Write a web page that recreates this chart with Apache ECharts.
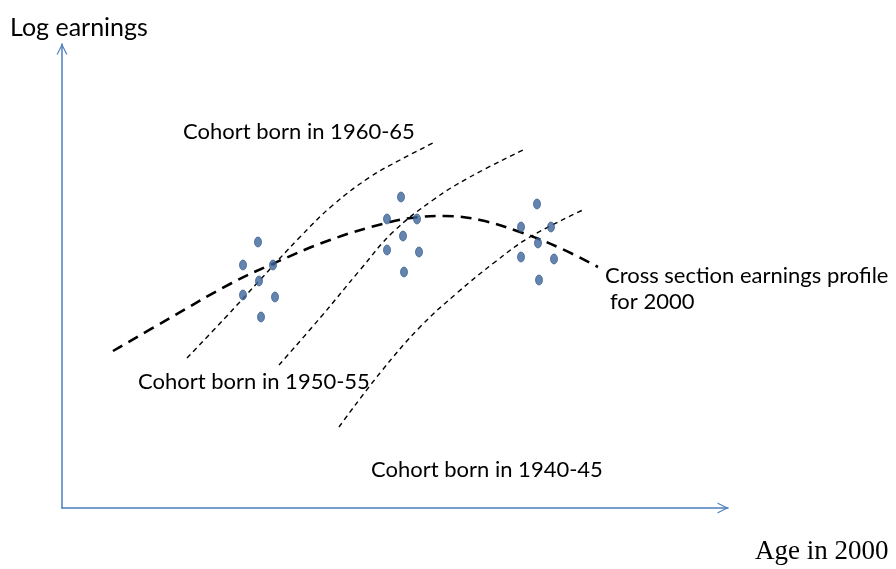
<!DOCTYPE html>
<html><head><meta charset="utf-8">
<script src="https://cdn.jsdelivr.net/npm/echarts@6/dist/echarts.min.js"></script>
<style>html,body{margin:0;padding:0;background:#fff}#c{width:896px;height:569px}</style>
</head><body><div id="c"></div>
<script>
// Data in schematic units (x: age, y: log earnings)
const cluster1 = [[196,266],[181,243],[211,243],[197,227],[181,213],[213,211],[199,191]];
const cluster2 = [[339,311],[325,289],[355,289],[341,272],[325,258],[357,256],[342,236]];
const cluster3 = [[475,304],[459,281],[489,281],[476,265],[459,251],[492,249],[477,228]];
const crossSection = [[51,157],[108,190],[168,224],[208,243],[268,268],[328,286],[358,291],[383,292],[418,288],[458,276],[498,260],[536,241]];
const cohort6065 = [[125,150],[163,190],[198,228],[238,271],[271,303],[308,331],[338,348],[373,366]];
const cohort5055 = [[217,143],[258,190],[298,238],[331,276],[371,308],[408,331],[461,358]];
const cohort4045 = [[277,81],[318,135],[358,181],[395,215],[433,246],[468,271],[523,299]];

const axisBlue = '#4a7ebb';
const chev = 'path://M0,12 L6,0 L12,12 L10.6,12 L6,2.6 L1.4,12 Z';
const chart = echarts.init(document.getElementById('c'));
const dotStyle = {color:'#3d659c', borderColor:'#2e5286', borderWidth:0.8};
const thin = {color:'#000', width:1.4, type:[5,4]};
const sans = '"Lato", sans-serif';
chart.setOption({
  animation:false,
  grid:{left:62, top:44, width:666, height:464},
  xAxis:{type:'value', min:0, max:666, axisLabel:{show:false}, axisTick:{show:false}, splitLine:{show:false},
    axisLine:{onZero:false, lineStyle:{color:axisBlue, width:1.5}, symbol:['none',chev], symbolSize:[11,12], symbolOffset:[0,-5]}},
  yAxis:{type:'value', min:0, max:464, axisLabel:{show:false}, axisTick:{show:false}, splitLine:{show:false},
    axisLine:{onZero:false, lineStyle:{color:axisBlue, width:1.5}, symbol:['none',chev], symbolSize:[11,12], symbolOffset:[0,-5]}},
  series:[
    {type:'line', data:crossSection, smooth:0.4, symbol:'none', lineStyle:{color:'#000', width:2.6, type:[11,7]}},
    {type:'line', data:cohort6065, smooth:0.4, symbol:'none', lineStyle:thin},
    {type:'line', data:cohort5055, smooth:0.4, symbol:'none', lineStyle:thin},
    {type:'line', data:cohort4045, smooth:0.4, symbol:'none', lineStyle:thin},
    {type:'scatter', data:cluster1.concat(cluster2, cluster3), symbol:'circle', symbolSize:[7,10], itemStyle:dotStyle, z:5}
  ],
  graphic:[
    {type:'text', x:10, y:40, style:{text:'Log earnings', font:'25px '+sans, fill:'#000', verticalAlign:'bottom'}},
    {type:'text', x:183, y:143, style:{text:'Cohort born in 1960-65', font:'22px '+sans, fill:'#000', verticalAlign:'bottom'}},
    {type:'text', x:138, y:393, style:{text:'Cohort born in 1950-55', font:'22px '+sans, fill:'#000', verticalAlign:'bottom'}},
    {type:'text', x:371, y:481, style:{text:'Cohort born in 1940-45', font:'22px '+sans, fill:'#000', verticalAlign:'bottom'}},
    {type:'text', x:605, y:287, style:{text:'Cross section earnings profile', font:'22px '+sans, fill:'#000', verticalAlign:'bottom'}},
    {type:'text', x:610, y:313, style:{text:'for 2000', font:'22px '+sans, fill:'#000', verticalAlign:'bottom'}},
    {type:'text', x:755, y:565, style:{text:'Age in 2000', font:'27px "Liberation Serif", serif', fill:'#000', verticalAlign:'bottom'}}
  ]
});
</script></body></html>
